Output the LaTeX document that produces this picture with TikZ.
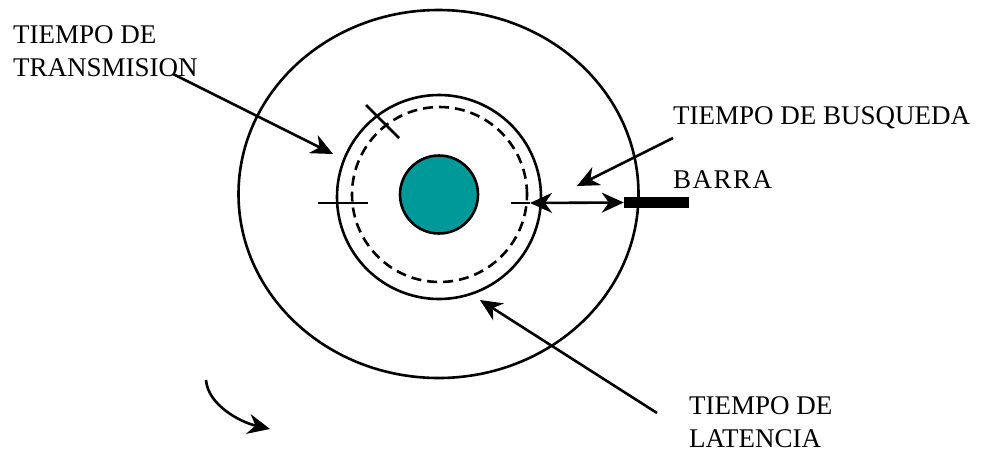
\documentclass[tikz,border=0pt]{standalone}
\usepackage{fontspec}
\setmainfont{Liberation Serif}
\usetikzlibrary{arrows.meta,shapes.geometric}
\definecolor{hubteal}{RGB}{0,153,153}
\begin{document}
\begin{tikzpicture}[x=1pt,y=-1pt,
  line/.style={line width=2.6pt},
  tip/.tip={Stealth[length=22pt,width=20pt,inset=7pt]},
  arr/.style={line width=2.6pt,-tip},
  lbl/.style={font=\fontsize{27}{33}\selectfont, inner sep=0pt, align=left},
]
\useasboundingbox[fill=white] (0,0) rectangle (985,451);
% disk
\node[ellipse, draw, line width=2.6pt, minimum width=400pt, minimum height=368pt, inner sep=0pt] (outer) at (438.5,194) {};
\node[circle, draw, line width=2.6pt, minimum size=204pt, inner sep=0pt] (track) at (439,197) {};
\node[circle, draw, line width=2.6pt, dash pattern=on 10pt off 6pt, minimum size=175pt, inner sep=0pt] (dashtrack) at (439.5,194.5) {};
\node[circle, draw, line width=2.6pt, fill=hubteal, minimum size=78pt, inner sep=0pt] (hub) at (439,194.5) {};
% ticks
\coordinate (tlA) at (318,203); \coordinate (tlB) at (368,203);
\coordinate (tdA) at (366,105); \coordinate (tdB) at (399,138);
\coordinate (trA) at (511,203); \coordinate (seekL) at (530,203);
\draw[line] (tlA) -- (tlB);
\draw[line] (tdA) -- (tdB);
\draw[line] (trA) -- (seekL);
% bar
\node[rectangle, fill=black, minimum width=65pt, minimum height=11pt, inner sep=0pt] (bar) at (656.5,202.5) {};
\draw[line, tip-tip] (seekL) -- (bar.west);
% labels
\node[lbl, anchor=base west] (trans) at (13,76) {TIEMPO DE\\TRANSMISION};
\node[lbl, anchor=base west] (busq) at (673,124) {TIEMPO DE BUSQUEDA};
\node[lbl, anchor=base west] (barra) at (673,188) {\addfontfeature{LetterSpace=5.5}BARRA};
\node[lbl, anchor=base west] (lat) at (689,447) {TIEMPO DE\\LATENCIA};
% arrows
\coordinate (transS) at (173,74); \coordinate (transE) at (333,154);
\coordinate (busqS) at (673,138); \coordinate (busqE) at (577,186);
\coordinate (latS) at (657,413); \coordinate (latE) at (480,300);
\coordinate (rotS) at (206,380); \coordinate (rotE) at (270,429);
\draw[arr] (transS) -- (transE);
\draw[arr] (busqS) -- (busqE);
\draw[arr] (latS) -- (latE);
\draw[arr] (rotS) .. controls (208,405) and (240,422) .. (rotE);
\end{tikzpicture}
\end{document}
